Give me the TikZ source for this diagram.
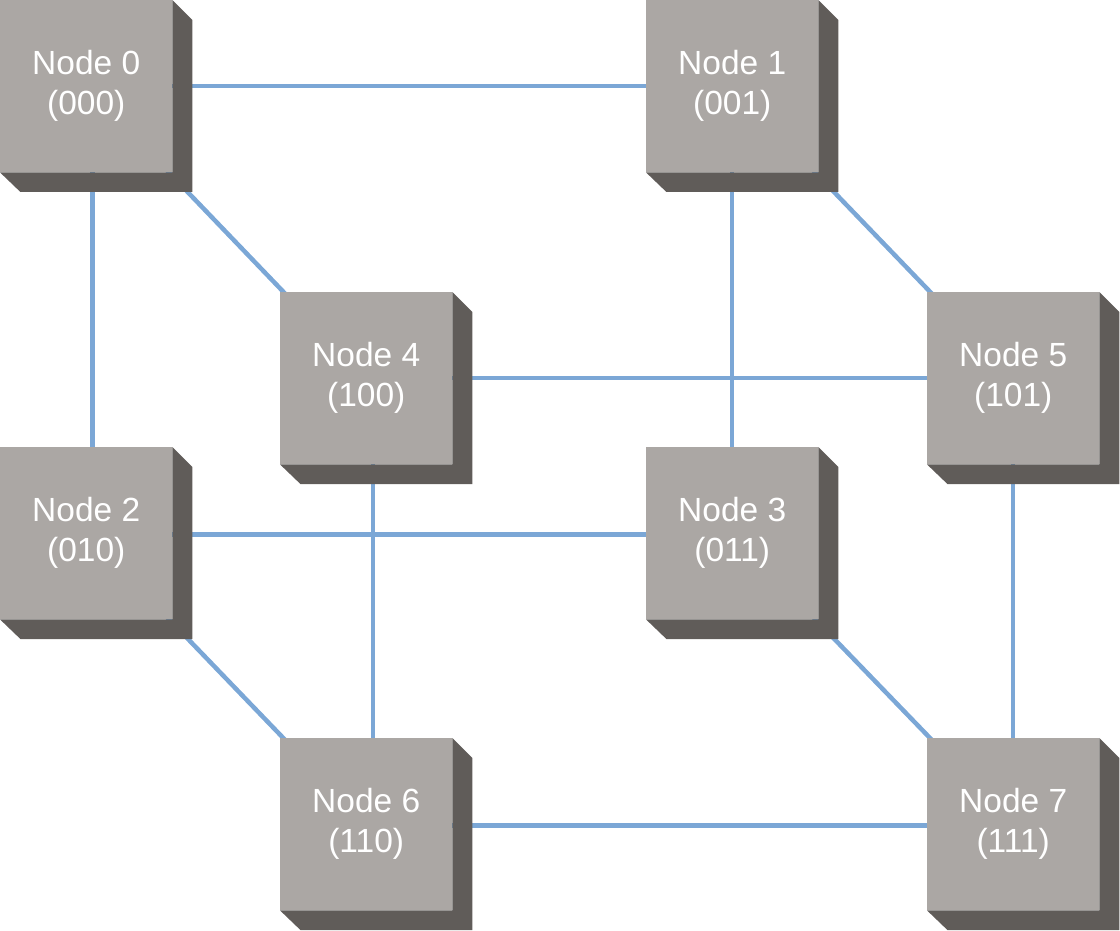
\documentclass[tikz,border=0pt]{standalone}
\usepackage{fontspec}
\setmainfont{Liberation Sans}
\usetikzlibrary{backgrounds,calc}
\definecolor{boxface}{RGB}{171,167,164}
\definecolor{boxside}{RGB}{96,92,89}
\definecolor{linkblue}{RGB}{123,167,214}
\tikzset{
  cube/.style={rectangle, fill=boxface, minimum width=172pt, minimum height=172pt,
    inner sep=0pt, anchor=north west, text=white,
    font=\fontsize{33.5}{40}\selectfont, align=center},
  link/.style={draw=linkblue, line width=4.5pt},
}
\newcommand{\extrudebox}[1]{\fill[boxside] (#1.north east) -- ++(20,20) -- ++(0,172) -- ++(-172,0) -- (#1.south west) -- (#1.south east) -- cycle;}
\begin{document}
\begin{tikzpicture}[x=1pt,y=-1pt]
\useasboundingbox (0,0) rectangle (1120,931);
\node[cube] (n0) at (0,0) {Node 0\\(000)};
\node[cube] (n1) at (646,0) {Node 1\\(001)};
\node[cube] (n4) at (280,292) {Node 4\\(100)};
\node[cube] (n5) at (927,292) {Node 5\\(101)};
\node[cube] (n2) at (0,447) {Node 2\\(010)};
\node[cube] (n3) at (646,447) {Node 3\\(011)};
\node[cube] (n6) at (280,738) {Node 6\\(110)};
\node[cube] (n7) at (927,738) {Node 7\\(111)};
\foreach \n in {n0,n1,n2,n3,n4,n5,n6,n7} {\extrudebox{\n}}
\begin{scope}[on background layer]
  \draw[link] (n0.center) -- (n1.center);
  \draw[link] ([xshift=6.5pt]n0.center) -- ([xshift=6.5pt]n2.center);
  \draw[link] (n0.center) -- (n4.center);
  \draw[link] (n1.center) -- (n3.center);
  \draw[link] (n1.center) -- (n5.center);
  \draw[link] (n4.center) -- (n5.center);
  \draw[link] ([xshift=7pt]n4.center) -- ([xshift=7pt]n6.center);
  \draw[link] (n5.center) -- (n7.center);
  \draw[link] ([yshift=-1.5pt]n2.center) -- ([yshift=-1.5pt]n3.center);
  \draw[link] (n2.center) -- (n6.center);
  \draw[link] (n3.center) -- (n7.center);
  \draw[link] ([yshift=-1.5pt]n6.center) -- ([yshift=-1.5pt]n7.center);
\end{scope}
\end{tikzpicture}
\end{document}
